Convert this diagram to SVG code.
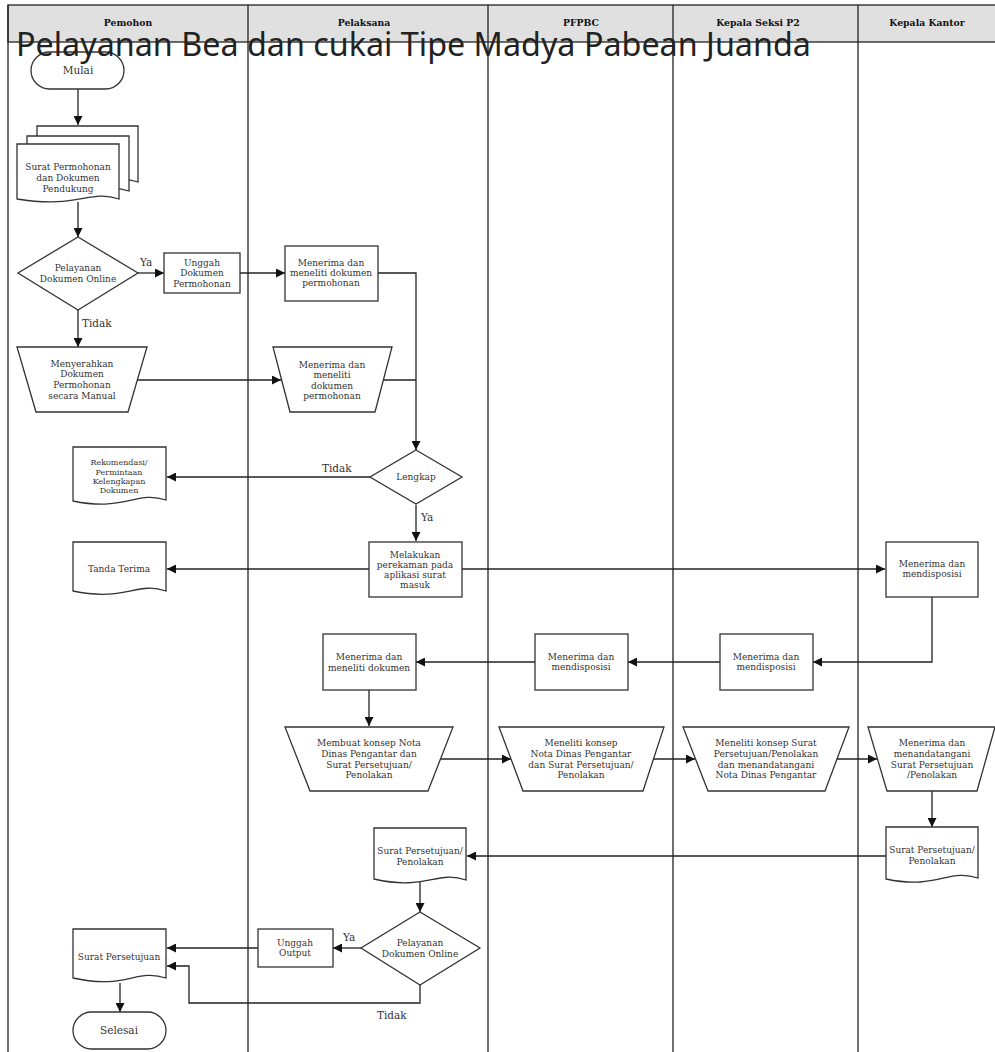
<svg xmlns="http://www.w3.org/2000/svg" width="995" height="1052" viewBox="0 0 995 1052">
<style>
.shape{fill:#fff;stroke:#333;stroke-width:1.3}
.lane{fill:none;stroke:#222;stroke-width:1.3}
.hdr{fill:#e0e0e0;stroke:#222;stroke-width:1.3}
.ht{font-family:"DejaVu Serif",serif;font-weight:bold;font-size:9.3px;fill:#111;text-anchor:middle}
.t{font-family:"DejaVu Serif",serif;font-size:9px;fill:#333;text-anchor:middle}
.ts{font-family:"DejaVu Serif",serif;font-size:8px;fill:#333;text-anchor:middle}
.tb{font-family:"DejaVu Serif",serif;font-size:10.5px;fill:#333;text-anchor:middle}
.lbl{font-family:"DejaVu Serif",serif;font-size:10.5px;fill:#333}
.title{font-family:"Noto Sans",sans-serif;font-size:32.3px;fill:#222}
.c{fill:none;stroke:#222;stroke-width:1.3}
.ca{fill:none;stroke:#222;stroke-width:1.3;marker-end:url(#ah)}
</style>
<defs>
<marker id="ah" viewBox="0 0 10 10" refX="10" refY="5" markerWidth="11" markerHeight="9" markerUnits="userSpaceOnUse" orient="auto"><path d="M0,0 L10,5 L0,10 z" fill="#111"/></marker>
</defs>
<rect width="995" height="1052" fill="#fff"/>
<g id="lanes">
<rect class="hdr" x="8" y="5" width="995" height="37"/>
<line class="lane" x1="8" y1="5" x2="8" y2="1052"/>
<line class="lane" x1="248" y1="5" x2="248" y2="1052"/>
<line class="lane" x1="488" y1="5" x2="488" y2="1052"/>
<line class="lane" x1="673" y1="5" x2="673" y2="1052"/>
<line class="lane" x1="858" y1="5" x2="858" y2="1052"/>
<text class="ht" x="128" y="26">Pemohon</text>
<text class="ht" x="364" y="26">Pelaksana</text>
<text class="ht" x="581" y="26">PFPBC</text>
<text class="ht" x="758" y="26">Kepala Seksi P2</text>
<text class="ht" x="927" y="26">Kepala Kantor</text>
</g>
<g id="connectors">
<path class="ca" d="M78,89 V125"/>
<path class="ca" d="M78,202 V237"/>
<path class="ca" d="M138,273 H164"/>
<path class="ca" d="M240,273 H285"/>
<path class="ca" d="M378,273 H416 V450"/>
<path class="ca" d="M78,310 V347"/>
<path class="ca" d="M137,380 H281"/>
<path class="c" d="M383,380 H416"/>
<path class="ca" d="M370,477 H167"/>
<path class="ca" d="M416,505 V541"/>
<path class="ca" d="M369,569 H167"/>
<path class="ca" d="M462,569 H885"/>
<path class="ca" d="M932,597 V662 H813"/>
<path class="ca" d="M720,662 H628"/>
<path class="ca" d="M535,662 H416"/>
<path class="ca" d="M369,690 V726"/>
<path class="ca" d="M441,759 H511"/>
<path class="ca" d="M653,759 H695"/>
<path class="ca" d="M837,759 H877"/>
<path class="ca" d="M932,791 V827"/>
<path class="ca" d="M886,856 H467"/>
<path class="ca" d="M420,881 V912"/>
<path class="ca" d="M361,948 H333"/>
<path class="ca" d="M258,948 H167"/>
<path class="ca" d="M420,985 V1003 H189 V966 H167"/>
<path class="ca" d="M120,983 V1012"/>
<text class="lbl" x="140" y="266">Ya</text>
<text class="lbl" x="82" y="327">Tidak</text>
<text class="lbl" x="322" y="472">Tidak</text>
<text class="lbl" x="421" y="521">Ya</text>
<text class="lbl" x="343" y="941">Ya</text>
<text class="lbl" x="377" y="1019">Tidak</text>
</g>
<g id="n-mulai">
<rect class="shape" x="31" y="52" width="93" height="37" rx="18.5"/>
<text class="tb" x="78" y="74">Mulai</text>
</g>
<g id="n-surat-permohonan">
<path class="shape" d="M37,126 H138 V182 C108,172 98,192 37,182 Z"/>
<path class="shape" d="M27,136 H129 V191 C99,181 89,201 27,191 Z"/>
<path class="shape" d="M17,144 H119 V199 C89,189 79,209 17,199 Z"/>
<text class="t" x="68" y="170">Surat Permohonan</text>
<text class="t" x="68" y="181">dan Dokumen</text>
<text class="t" x="68" y="192">Pendukung</text>
</g>
<g id="n-online1">
<path class="shape" d="M78,237 L138,273 L78,310 L18,273 Z"/>
<text class="t" x="78" y="271">Pelayanan</text>
<text class="t" x="78" y="282">Dokumen Online</text>
</g>
<g id="n-unggah-dok">
<rect class="shape" x="164" y="253" width="76" height="40"/>
<text class="t" x="202" y="266">Unggah</text>
<text class="t" x="202" y="276">Dokumen</text>
<text class="t" x="202" y="287">Permohonan</text>
</g>
<g id="n-menerima1">
<rect class="shape" x="285" y="246" width="93" height="55"/>
<text class="t" x="331" y="266">Menerima dan</text>
<text class="t" x="331" y="276">meneliti dokumen</text>
<text class="t" x="331" y="286">permohonan</text>
</g>
<g id="n-menyerahkan">
<path class="shape" d="M17,347 H147 L128,412 H36 Z"/>
<text class="t" x="82" y="367">Menyerahkan</text>
<text class="t" x="82" y="377">Dokumen</text>
<text class="t" x="82" y="388">Permohonan</text>
<text class="t" x="82" y="399">secara Manual</text>
</g>
<g id="n-menerima2">
<path class="shape" d="M273,347 H392 L375,412 H290 Z"/>
<text class="t" x="332" y="368">Menerima dan</text>
<text class="t" x="332" y="378">meneliti</text>
<text class="t" x="332" y="389">dokumen</text>
<text class="t" x="332" y="399">permohonan</text>
</g>
<g id="n-lengkap">
<path class="shape" d="M416,450 L462,477 L416,504 L370,477 Z"/>
<text class="t" x="416" y="480">Lengkap</text>
</g>
<g id="n-rekomendasi">
<path class="shape" d="M73,447 H166 V500 C136,490 126,512 73,501 Z"/>
<text class="ts" x="119" y="465">Rekomendasi/</text>
<text class="ts" x="119" y="475">Permintaan</text>
<text class="ts" x="119" y="484">Kelengkapan</text>
<text class="ts" x="119" y="493">Dokumen</text>
</g>
<g id="n-melakukan">
<rect class="shape" x="369" y="542" width="93" height="55"/>
<text class="t" x="415" y="558">Melakukan</text>
<text class="t" x="415" y="568">perekaman pada</text>
<text class="t" x="415" y="578">aplikasi surat</text>
<text class="t" x="415" y="588">masuk</text>
</g>
<g id="n-tanda-terima">
<path class="shape" d="M73,542 H166 V591 C136,581 126,602 73,591 Z"/>
<text class="t" x="119" y="572">Tanda Terima</text>
</g>
<g id="n-kk-disposisi">
<rect class="shape" x="886" y="542" width="92" height="55"/>
<text class="t" x="932" y="567">Menerima dan</text>
<text class="t" x="932" y="577">mendisposisi</text>
</g>
<g id="n-ks-disposisi">
<rect class="shape" x="720" y="634" width="93" height="56"/>
<text class="t" x="766" y="660">Menerima dan</text>
<text class="t" x="766" y="670">mendisposisi</text>
</g>
<g id="n-pfpbc-disposisi">
<rect class="shape" x="535" y="634" width="93" height="56"/>
<text class="t" x="581" y="660">Menerima dan</text>
<text class="t" x="581" y="670">mendisposisi</text>
</g>
<g id="n-menerima-meneliti">
<rect class="shape" x="323" y="634" width="93" height="56"/>
<text class="t" x="369" y="660">Menerima dan</text>
<text class="t" x="369" y="671">meneliti dokumen</text>
</g>
<g id="n-membuat-konsep">
<path class="shape" d="M285,727 H453 L428,791 H310 Z"/>
<text class="t" x="369" y="746">Membuat konsep Nota</text>
<text class="t" x="369" y="757">Dinas Pengantar dan</text>
<text class="t" x="369" y="768">Surat Persetujuan/</text>
<text class="t" x="369" y="778">Penolakan</text>
</g>
<g id="n-pfpbc-meneliti">
<path class="shape" d="M499,727 H664 L643,791 H523 Z"/>
<text class="t" x="581" y="746">Meneliti konsep</text>
<text class="t" x="581" y="757">Nota Dinas Pengantar</text>
<text class="t" x="581" y="768">dan Surat Persetujuan/</text>
<text class="t" x="581" y="778">Penolakan</text>
</g>
<g id="n-ks-meneliti">
<path class="shape" d="M683,727 H849 L825,791 H708 Z"/>
<text class="t" x="766" y="746">Meneliti konsep Surat</text>
<text class="t" x="766" y="757">Persetujuan/Penolakan</text>
<text class="t" x="766" y="768">dan menandatangani</text>
<text class="t" x="766" y="778">Nota Dinas Pengantar</text>
</g>
<g id="n-kk-menandatangani">
<path class="shape" d="M868,727 H995 L977,791 H887 Z"/>
<text class="t" x="932" y="746">Menerima dan</text>
<text class="t" x="932" y="757">menandatangani</text>
<text class="t" x="932" y="768">Surat Persetujuan</text>
<text class="t" x="932" y="778">/Penolakan</text>
</g>
<g id="n-kk-surat">
<path class="shape" d="M886,827 H978 V878 C948,868 938,890 886,879 Z"/>
<text class="t" x="932" y="853">Surat Persetujuan/</text>
<text class="t" x="932" y="864">Penolakan</text>
</g>
<g id="n-pl-surat">
<path class="shape" d="M374,828 H466 V880 C436,870 426,891 374,879 Z"/>
<text class="t" x="420" y="854">Surat Persetujuan/</text>
<text class="t" x="420" y="865">Penolakan</text>
</g>
<g id="n-online2">
<path class="shape" d="M420,912 L480,948 L420,985 L361,948 Z"/>
<text class="t" x="420" y="946">Pelayanan</text>
<text class="t" x="420" y="957">Dokumen Online</text>
</g>
<g id="n-unggah-output">
<rect class="shape" x="258" y="929" width="75" height="38"/>
<text class="t" x="295" y="946">Unggah</text>
<text class="t" x="295" y="956">Output</text>
</g>
<g id="n-surat-persetujuan">
<path class="shape" d="M73,929 H166 V978 C136,968 126,990 73,978 Z"/>
<text class="t" x="119" y="960">Surat Persetujuan</text>
</g>
<g id="n-selesai">
<rect class="shape" x="73" y="1012" width="93" height="37" rx="18.5"/>
<text class="tb" x="119" y="1034">Selesai</text>
</g>
<text class="title" x="16" y="56">Pelayanan Bea dan cukai Tipe Madya Pabean Juanda</text>
</svg>
